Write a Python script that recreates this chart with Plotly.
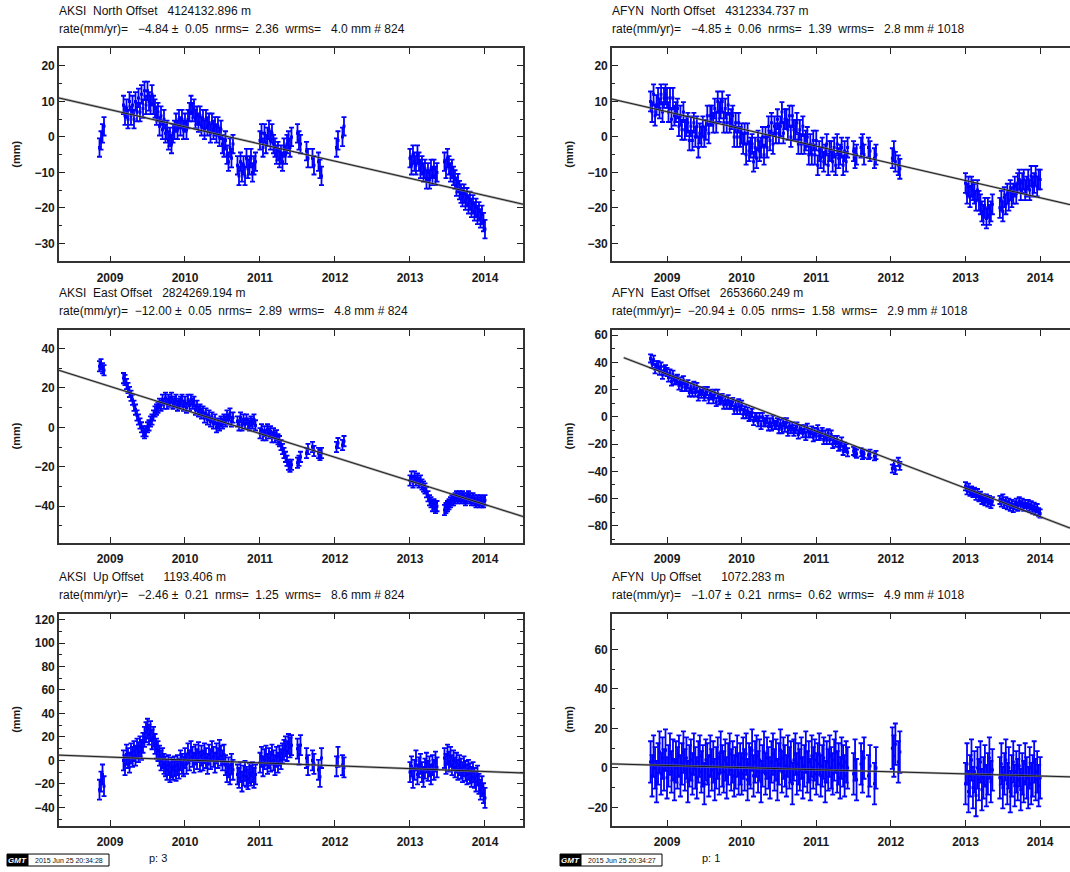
import plotly.graph_objects as go

# ---------------------------------------------------------------------------
# Daily GPS position residual series (mm) for stations AKSI and AFYN
# ---------------------------------------------------------------------------
aksi_t = [
    2008.86, 2008.88, 2008.90, 2008.92,
    2009.18, 2009.20, 2009.22, 2009.24, 2009.26, 2009.28, 2009.30, 2009.32, 2009.34, 2009.36,
    2009.38, 2009.40, 2009.42, 2009.44, 2009.46, 2009.48, 2009.50, 2009.52, 2009.54, 2009.56,
    2009.58, 2009.60, 2009.62,
    2009.64, 2009.66, 2009.68, 2009.70, 2009.72, 2009.74, 2009.76, 2009.78, 2009.80, 2009.82,
    2009.84, 2009.86, 2009.88, 2009.90, 2009.92, 2009.94, 2009.96, 2009.98,
    2010.00, 2010.02, 2010.04, 2010.06, 2010.08, 2010.10, 2010.12, 2010.14, 2010.16, 2010.18,
    2010.20, 2010.22, 2010.24, 2010.26, 2010.28, 2010.30, 2010.32, 2010.34, 2010.36, 2010.38,
    2010.40, 2010.42, 2010.44, 2010.46, 2010.48, 2010.50, 2010.52, 2010.54, 2010.56, 2010.58,
    2010.60, 2010.62, 2010.64,
    2010.70, 2010.72, 2010.74, 2010.76, 2010.78, 2010.80, 2010.82, 2010.84, 2010.86, 2010.88,
    2010.90, 2010.92, 2010.94,
    2011.00, 2011.02, 2011.04, 2011.06, 2011.08, 2011.10, 2011.12, 2011.14, 2011.16, 2011.18,
    2011.20, 2011.22, 2011.24, 2011.26, 2011.28, 2011.30, 2011.32, 2011.34, 2011.36, 2011.38,
    2011.40, 2011.42,
    2011.50, 2011.52, 2011.54, 2011.62, 2011.64, 2011.70, 2011.72, 2011.78, 2011.80, 2011.82,
    2012.02, 2012.04, 2012.10, 2012.12,
    2013.00, 2013.02, 2013.04, 2013.06, 2013.08, 2013.10, 2013.12, 2013.14, 2013.16, 2013.18,
    2013.20, 2013.22, 2013.24, 2013.26, 2013.28, 2013.30, 2013.32, 2013.34, 2013.36,
    2013.46, 2013.48, 2013.50, 2013.52, 2013.54, 2013.56, 2013.58, 2013.60, 2013.62, 2013.64,
    2013.66, 2013.68, 2013.70, 2013.72, 2013.74, 2013.76, 2013.78, 2013.80, 2013.82, 2013.84,
    2013.86, 2013.88, 2013.90, 2013.92, 2013.94, 2013.96, 2013.98, 2014.00,
]
aksi_n = [
    -3, -1, 1, 3,
    9, 6, 8, 5, 10, 6, 9, 5, 10, 7, 11, 7, 12, 8, 13, 9, 13, 10, 9, 12, 9, 8, 6,
    7, 3, 6, 2, 5, 1, 2, -1, 0, -2, 1, 2, 4, 2, 5, 3, 5, 2,
    4, 2, 5, 7, 9, 7, 8, 5, 6, 4, 6, 3, 5, 2, 5, 3, 4, 1, 4, 2, 3, 1, 3, 0, 2,
    -2, -3, -1, -5, -7, -3, -6, -2,
    -8, -11, -7, -10, -8, -11, -6, -9, -8, -6, -10, -8, -7,
    -1, 1, -3, 1, -2, 0, 2, -1, 1, -2, -3, -5, -4, -6, -5, -7, -3, -5, -2, -1, -3, 0,
    1, -1, -2, -4, -6, -6, -8, -7, -9, -11, -3, -1, 0, 3,
    -6, -8, -5, -7, -8, -5, -7, -9, -8, -10, -9, -12, -10, -12, -9, -11, -9, -11, -10,
    -7, -9, -6, -8, -10, -9, -11, -12, -14, -13, -15, -16, -17, -16, -18, -17, -19, -18,
    -20, -19, -21, -20, -22, -21, -23, -22, -24, -26,
]
aksi_e = [
    31, 32, 30, 29,
    25, 24, 22, 20, 18, 16, 14, 11, 9, 6, 4, 2, 0, -2, -3, -2, 0, 1, 3, 4, 6, 8, 9,
    10, 12, 11, 14, 12, 15, 12, 14, 13, 15, 12, 13, 14, 11, 12, 13, 14, 11,
    13, 10, 14, 11, 14, 12, 13, 9, 11, 8, 9, 7, 8, 5, 7, 4, 6, 3, 5, 2, 4, 0, 2, 1, 3,
    2, 4, 3, 6, 4, 7, 3, 5,
    3, 1, 5, 1, 4, 2, 4, 2, 1, 3, 2, 4, 1,
    -3, -1, -4, -2, -4, -1, -3, -2, -5, -3, -5, -4, -6, -7, -9, -11, -13, -15, -17, -19, -20, -19,
    -18, -17, -15, -13, -11, -10, -12, -13, -14, -13, -10, -8, -9, -7,
    -27, -25, -28, -25, -27, -26, -28, -27, -29, -30, -31, -33, -35, -37, -38, -40, -39, -41, -40,
    -42, -41, -40, -39, -38, -37, -37, -36, -35, -36, -35, -36, -35, -36, -37, -36, -35, -36,
    -37, -36, -37, -38, -37, -38, -37, -38, -38, -37,
]
aksi_u = [
    -25, -18, -12, -22,
    0, -4, 5, 2, -2, 6, 3, 8, 4, 10, 7, 12, 9, 15, 20, 24, 27, 22, 25, 18, 20, 14, 10,
    8, 4, 0, 2, -3, -5, -8, -4, -10, -6, -8, -5, -9, -4, -7, 0, -3, -5,
    2, -3, 6, 0, 8, 3, -2, 5, 1, 7, -1, 4, 0, 6, 2, -3, 5, 1, 8, 3, -2, 6, 2, 9, 4,
    0, 5, -4, -10, -6, -12, -3, -8,
    -12, -15, -10, -18, -13, -9, -14, -16, -11, -13, -10, -15, -12,
    -2, 3, -5, 1, 4, -3, 2, -1, 5, 0, -4, 3, -2, 4, 1, 6, 9, 12, 8, 14, 11, 13,
    10, 5, 13, 2, -4, 0, -3, -8, -14, 2, -5, 3, -4, -6,
    -10, -5, -15, -8, 0, -12, -6, -3, -10, -14, -7, -2, -9, -5, -12, -4, -8, -1, -6,
    2, -3, 5, -1, 3, -4, 0, -6, -2, -8, -4, -7, -10, -5, -9, -12, -8, -11,
    -14, -10, -15, -18, -13, -20, -25, -22, -28, -32,
]

afyn_t = [
    2008.78, 2008.80, 2008.82, 2008.84, 2008.86, 2008.88, 2008.90, 2008.92, 2008.94, 2008.96, 2008.98,
    2009.00, 2009.02, 2009.04, 2009.06, 2009.08, 2009.10, 2009.12, 2009.14, 2009.16, 2009.18,
    2009.20, 2009.22, 2009.24, 2009.26, 2009.28, 2009.30, 2009.32, 2009.34, 2009.36, 2009.38,
    2009.40, 2009.42, 2009.44, 2009.46, 2009.48, 2009.50, 2009.52, 2009.54, 2009.56, 2009.58,
    2009.60, 2009.62, 2009.64, 2009.66, 2009.68, 2009.70, 2009.72, 2009.74, 2009.76, 2009.78,
    2009.80, 2009.82, 2009.84, 2009.86, 2009.88, 2009.90, 2009.92, 2009.94, 2009.96, 2009.98,
    2010.00, 2010.02, 2010.04, 2010.06, 2010.08, 2010.10, 2010.12, 2010.14, 2010.16, 2010.18,
    2010.20, 2010.22, 2010.24, 2010.26, 2010.28, 2010.30, 2010.32, 2010.34, 2010.36, 2010.38,
    2010.40, 2010.42, 2010.44, 2010.46, 2010.48, 2010.50, 2010.52, 2010.54, 2010.56, 2010.58,
    2010.60, 2010.62, 2010.64, 2010.66, 2010.68, 2010.70, 2010.72, 2010.74, 2010.76, 2010.78,
    2010.80, 2010.82, 2010.84, 2010.86, 2010.88, 2010.90, 2010.92, 2010.94, 2010.96, 2010.98,
    2011.00, 2011.02, 2011.04, 2011.06, 2011.08, 2011.10, 2011.12, 2011.14, 2011.16, 2011.18,
    2011.20, 2011.22, 2011.24, 2011.26, 2011.28, 2011.30, 2011.32, 2011.34, 2011.36, 2011.38,
    2011.40, 2011.42,
    2011.50, 2011.52, 2011.54, 2011.60, 2011.62, 2011.64, 2011.70, 2011.72, 2011.78, 2011.80,
    2012.02, 2012.04, 2012.06, 2012.10, 2012.12,
    2013.00, 2013.02, 2013.04, 2013.06, 2013.08, 2013.10, 2013.12, 2013.14, 2013.16, 2013.18,
    2013.20, 2013.22, 2013.24, 2013.26, 2013.28, 2013.30, 2013.32, 2013.34, 2013.36,
    2013.46, 2013.48, 2013.50, 2013.52, 2013.54, 2013.56, 2013.58, 2013.60, 2013.62, 2013.64,
    2013.66, 2013.68, 2013.70, 2013.72, 2013.74, 2013.76, 2013.78, 2013.80, 2013.82, 2013.84,
    2013.86, 2013.88, 2013.90, 2013.92, 2013.94, 2013.96, 2013.98, 2014.00,
]
afyn_n = [
    10, 7, 12, 6, 9, 11, 8, 12, 7, 11, 12,
    11, 7, 11, 5, 11, 6, 7, 8, 3, 6,
    2, 7, 2, 3, 4, -1, 3, -1, 4, 0,
    3, -3, 1, 0, 3, 0, 2, 6, 1, 6,
    6, 4, 8, 4, 10, 7, 8, 10, 4, 8,
    4, 9, 4, 5, 6, 0, 4, 0, 4, 0,
    1, -2, 1, -5, 1, -4, -3, -2, -7, -3,
    -6, -1, -4, -3, 0, -5, 0, -3, 3, -1,
    4, -2, 3, 1, 5, 1, 3, 7, 1, 5,
    5, 2, 6, 0, 6, 2, 2, 4, -2, 2,
    -2, 3, -2, -1, 0, -5, -2, -5, -1, -5,
    -1, -8, -4, -6, -3, -7, -5, -2, -8, -4,
    -4, -7, -3, -8, -2, -6, -5, -3, -8, -4,
    -7, -3,
    -4, -6, -5, -3, -2, -5, -3, -4, -6, -5, -6, -4, -7, -8, -9,
    -13, -16, -14, -17, -14, -15, -16, -18, -15, -18, -19, -21, -22, -20, -23, -20, -22, -21, -19,
    -20, -18, -21, -17, -19, -16, -18, -15, -17, -16, -14, -16, -13, -12, -15, -13, -12, -15,
    -14, -12, -15, -11, -14, -13, -11, -14, -12, -12,
]
afyn_e = [
    43, 39, 42, 35, 38, 38, 34, 37, 31, 34, 35,
    33, 29, 32, 26, 31, 27, 27, 28, 23, 26,
    22, 27, 22, 22, 24, 18, 22, 18, 23, 18,
    22, 15, 19, 17, 19, 15, 17, 19, 13, 17,
    16, 13, 17, 11, 17, 12, 13, 14, 9, 12,
    9, 13, 9, 9, 11, 5, 9, 5, 10, 5,
    9, 2, 5, 2, 4, 0, 1, 3, -3, 0,
    0, -4, 0, -6, 0, -4, -4, -2, -7, -4,
    -7, -2, -6, -6, -4, -9, -5, -9, -4, -8,
    -4, -11, -7, -9, -7, -11, -9, -7, -13, -9,
    -9, -12, -9, -14, -8, -12, -12, -10, -15, -11,
    -14, -9, -14, -13, -11, -17, -13, -17, -12, -17,
    -13, -20, -17, -19, -17, -22, -21, -18, -25, -22,
    -23, -26,
    -25, -26, -27, -26, -28, -27, -28, -27, -29, -28, -38, -35, -39, -33, -36,
    -51, -54, -52, -55, -54, -56, -55, -58, -56, -59, -58, -61, -60, -62, -60, -63, -61, -64, -62,
    -61, -63, -60, -64, -62, -65, -63, -66, -64, -67, -65, -63, -66, -62, -65, -63, -66, -64,
    -66, -64, -67, -65, -68, -66, -69, -67, -70, -71,
]
afyn_u = [
    3, -4, 6, 0, -7, 2, 8, -3, 5, -1, 9,
    -5, 1, 7, -2, 4, -6, 3, 0, 6, -4,
    2, 8, -1, 5, -7, 1, 4, -3, 7, 0,
    -5, 3, 6, -2, 1, -8, 4, 2, -4, 6,
    -1, 3, -6, 0, 5, -3, 8, 1, -2, 4,
    -5, 2, 7, -1, 3, -4, 0, 6, -3, 2,
    -3, 5, -1, 7, -6, 2, 0, 9, -4, 3,
    6, -2, 4, -7, 1, 8, -3, 5, 0, -5,
    3, 7, -1, 4, -6, 2, 9, -2, 5, 1,
    -4, 6, 0, 3, -8, 4, 7, -3, 2, -1,
    5, -5, 1, 8, -2, 3, -6, 6, 0, 4,
    -3, 2, 7, -4, 1, 5, -7, 3, -1, 6,
    0, -3, 4, 8, -2, 2, -5, 5, 1, -4,
    3, 0,
    -3, 4, -6, 2, -2, 5, -4, 1, -8, 0, 10, 6, 12, 3, 8,
    -8, 2, -12, -4, 4, -10, -2, -14, 0, -6, 3, -11, -5, 1, -9, -3, 5, -7, -1,
    -5, 2, -10, -3, 4, -8, 0, -12, -4, 3, -9, -2, -6, 1, -11, -3, -7, 2,
    -5, -10, 0, -8, -4, 3, -6, -2, -9, -5,
]

# formal 1-sigma uncertainties (mm) per component: N, E, U
aksi_sigma = [2.6, 2.6, 8.5]
afyn_sigma = [2.8, 3.0, 10.5]

# linear fit: rate (mm/yr) and fitted value at 2011.0 (mm), order N, E, U
aksi_rate = [-4.84, -12.00, -2.46]
aksi_fit_2011 = [-2.0, -3.2, -2.1]
afyn_rate = [-4.85, -20.94, -1.07]
afyn_fit_2011 = [-2.6, -10.5, -0.9]

# header texts
aksi_headers = [
    ("AKSI  North Offset   4124132.896 m",
     "rate(mm/yr)=   \u22124.84 \u00b1  0.05  nrms=  2.36  wrms=   4.0 mm # 824"),
    ("AKSI  East Offset   2824269.194 m",
     "rate(mm/yr)=  \u221212.00 \u00b1  0.05  nrms=  2.89  wrms=   4.8 mm # 824"),
    ("AKSI  Up Offset      1193.406 m",
     "rate(mm/yr)=   \u22122.46 \u00b1  0.21  nrms=  1.25  wrms=   8.6 mm # 824"),
]
afyn_headers = [
    ("AFYN  North Offset   4312334.737 m",
     "rate(mm/yr)=   \u22124.85 \u00b1  0.06  nrms=  1.39  wrms=   2.8 mm # 1018"),
    ("AFYN  East Offset   2653660.249 m",
     "rate(mm/yr)=  \u221220.94 \u00b1  0.05  nrms=  1.58  wrms=   2.9 mm # 1018"),
    ("AFYN  Up Offset      1072.283 m",
     "rate(mm/yr)=   \u22121.07 \u00b1  0.21  nrms=  0.62  wrms=   4.9 mm # 1018"),
]

years = [2009, 2010, 2011, 2012, 2013, 2014]
aksi_xrange = [2008.32, 2014.507]
afyn_xrange = [2008.263, 2014.40]
aksi_yranges = [[-35.1, 25.1], [-58.6, 49.3], [-56.0, 125.1]]
afyn_yranges = [[-35.1, 25.1], [-92.5, 63.7], [-29.5, 78.2]]
aksi_ydticks = [10, 20, 20]
afyn_ydticks = [10, 20, 20]
afyn_fit_start = [None, 2008.42, None]

stamps = [("2015 Jun 25 20:34:28", "p: 3"), ("2015 Jun 25 20:34:27", "p: 1")]

# ---------------------------------------------------------------------------
W, H = 1070, 872
FONT = "Liberation Sans, Arial, sans-serif"
BLUE = "#0000ff"

# panel boxes in pixels: columns (left, right) and rows (top, bottom)
col_px = [(59, 523), (612, 1070)]
row_px = [(46, 260), (329, 542), (613, 826)]


def fx(p):
    return p / W


def fy(p):
    return 1 - p / H


fig = go.Figure()
annotations = []
shapes = []

stations = [
    dict(t=aksi_t, comps=[aksi_n, aksi_e, aksi_u], sigma=aksi_sigma, rate=aksi_rate,
         fit=aksi_fit_2011, headers=aksi_headers, xr=aksi_xrange, yr=aksi_yranges,
         dt=aksi_ydticks, start=[None, None, None]),
    dict(t=afyn_t, comps=[afyn_n, afyn_e, afyn_u], sigma=afyn_sigma, rate=afyn_rate,
         fit=afyn_fit_2011, headers=afyn_headers, xr=afyn_xrange, yr=afyn_yranges,
         dt=afyn_ydticks, start=afyn_fit_start),
]

layout_axes = {}
k = 0
for c, st in enumerate(stations):
    x0p, x1p = col_px[c]
    for r in range(3):
        k += 1
        y0p, y1p = row_px[r]
        xa = "x" if k == 1 else f"x{k}"
        ya = "y" if k == 1 else f"y{k}"
        vals = st["comps"][r]
        # observations with error bars
        fig.add_trace(go.Scatter(
            x=st["t"], y=vals, mode="markers",
            marker=dict(symbol="square", size=3, color=BLUE, line=dict(width=0)),
            error_y=dict(type="constant", value=st["sigma"][r], color=BLUE,
                         thickness=1.8, width=2.5),
            xaxis=xa, yaxis=ya, hoverinfo="skip",
        ))
        # fitted linear trend
        xs0 = st["start"][r] if st["start"][r] is not None else st["xr"][0]
        lx = [xs0, st["xr"][1]]
        ly = [st["fit"][r] + st["rate"][r] * (v - 2011.0) for v in lx]
        fig.add_trace(go.Scatter(x=lx, y=ly, mode="lines",
                                 line=dict(color="rgba(130,130,130,0.7)", width=2.4),
                                 xaxis=xa, yaxis=ya, hoverinfo="skip"))
        fig.add_trace(go.Scatter(x=lx, y=ly, mode="lines",
                                 line=dict(color="#111111", width=0.9),
                                 xaxis=xa, yaxis=ya, hoverinfo="skip"))

        axis_common = dict(showgrid=False, zeroline=False, showline=True,
                           linecolor="#333333", linewidth=1.6, ticks="inside",
                           tickcolor="#222222", tickwidth=1.3,
                           tickfont=dict(family=FONT, size=12, color="#1a1a1a",
                                         weight="bold"))
        layout_axes["xaxis" if k == 1 else f"xaxis{k}"] = dict(
            axis_common, domain=[fx(x0p), fx(x1p)], range=st["xr"],
            tickvals=years, ticktext=[str(v) for v in years], ticklen=6,
            ticklabelstandoff=4, mirror="ticks", anchor=ya,
        )
        layout_axes["yaxis" if k == 1 else f"yaxis{k}"] = dict(
            axis_common, domain=[fy(y1p), fy(y0p)], range=st["yr"][r],
            tick0=0, dtick=st["dt"][r], ticklen=6,
            minor=dict(dtick=st["dt"][r] / 2, ticks="inside", ticklen=3,
                       tickcolor="#222222", tickwidth=1.2),
            mirror="ticks" if c == 0 else False, anchor=xa,
        )
        # headers above the panel
        h1, h2 = st["headers"][r]
        for txt, dy in ((h1, 37), (h2, 19)):
            annotations.append(dict(
                text=txt, x=fx(x0p - 2), y=fy(y0p - dy), xref="paper", yref="paper",
                xanchor="left", yanchor="middle", showarrow=False,
                font=dict(family=FONT, size=12, color="#111111"),
            ))
        # y axis label
        annotations.append(dict(
            text="(mm)", x=fx(x0p - 43), y=fy((y0p + y1p) / 2), xref="paper", yref="paper",
            xanchor="center", yanchor="middle", textangle=-90, showarrow=False,
            font=dict(family=FONT, size=11, color="#1a1a1a", weight="bold"),
        ))

    # plot stamp beneath the column
    stamp, page = stamps[c]
    bx = x0p - 52
    shapes.append(dict(type="rect", xref="paper", yref="paper",
                       x0=fx(bx), x1=fx(bx + 21), y0=fy(866), y1=fy(854),
                       fillcolor="#000000", line=dict(color="#000000", width=1)))
    shapes.append(dict(type="rect", xref="paper", yref="paper",
                       x0=fx(bx + 21), x1=fx(bx + 102), y0=fy(866), y1=fy(854),
                       fillcolor="#ffffff", line=dict(color="#000000", width=1)))
    annotations.append(dict(text="<b><i>GMT</i></b>", x=fx(bx + 10.5), y=fy(860),
                            xref="paper", yref="paper", showarrow=False,
                            xanchor="center", yanchor="middle",
                            font=dict(family=FONT, size=8, color="#ffffff")))
    annotations.append(dict(text=stamp, x=fx(bx + 61.5), y=fy(860),
                            xref="paper", yref="paper", showarrow=False,
                            xanchor="center", yanchor="middle",
                            font=dict(family=FONT, size=7, color="#111111")))
    annotations.append(dict(text=page, x=fx(bx + 140), y=fy(858),
                            xref="paper", yref="paper", showarrow=False,
                            xanchor="left", yanchor="middle",
                            font=dict(family=FONT, size=11, color="#111111")))

fig.update_layout(
    width=W, height=H, margin=dict(l=0, r=0, t=0, b=0),
    paper_bgcolor="#ffffff", plot_bgcolor="#ffffff",
    showlegend=False, annotations=annotations, shapes=shapes,
    **layout_axes,
)

fig.write_html("out.html")
